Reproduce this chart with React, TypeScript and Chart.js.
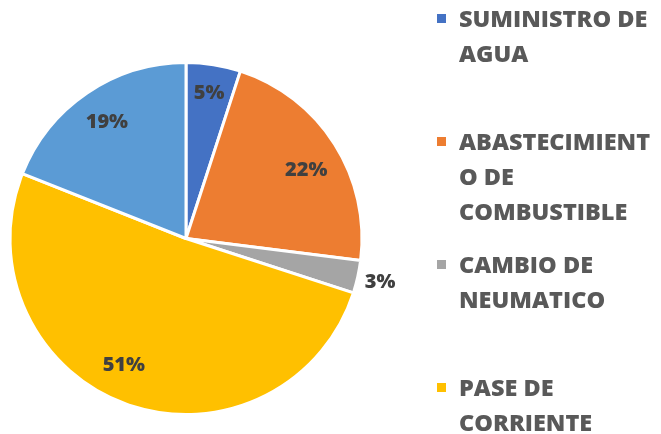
import React, { useEffect, useRef } from "react";
import { Chart, registerables } from "chart.js";

Chart.register(...registerables);

const categories = [
  "SUMINISTRO DE AGUA",
  "ABASTECIMIENTO DE COMBUSTIBLE",
  "CAMBIO DE NEUMATICO",
  "PASE DE CORRIENTE",
  "OTROS",
];
const values = [5, 22, 3, 51, 19];
const colors = ["#4472C4", "#ED7D31", "#A5A5A5", "#FFC000", "#5B9BD5"];
// label placement (style): radial fraction and angular nudge in degrees
const labelRadius = [0.836, 0.784, 1.13, 0.8, 0.8];
const labelNudge = [0, 3, 0, 6.4, 0];

function wrapText(ctx: CanvasRenderingContext2D, text: string, maxW: number): string[] {
  const words = text.split(" ");
  const lines: string[] = [];
  let cur = "";
  const pushLong = (w: string) => {
    let part = "";
    for (const ch of w) {
      if (ctx.measureText(part + ch).width > maxW && part) {
        lines.push(part);
        part = ch;
      } else part += ch;
    }
    return part;
  };
  for (const w of words) {
    const test = cur ? cur + " " + w : w;
    if (ctx.measureText(test).width <= maxW) {
      cur = test;
    } else {
      if (cur) lines.push(cur);
      if (ctx.measureText(w).width > maxW) cur = pushLong(w);
      else cur = w;
    }
  }
  if (cur) lines.push(cur);
  return lines;
}

const labelsPlugin = {
  id: "customLabels",
  afterDatasetsDraw(chart: any) {
    const ctx = chart.ctx as CanvasRenderingContext2D;
    const meta = chart.getDatasetMeta(0);
    const total = values.reduce((a, b) => a + b, 0);
    ctx.save();
    ctx.font = "800 20px 'Open Sans'";
    ctx.fillStyle = "#404040";
    ctx.textAlign = "center";
    ctx.textBaseline = "middle";
    meta.data.forEach((arc: any, i: number) => {
      const { x, y, startAngle, endAngle, outerRadius } = arc.getProps(
        ["x", "y", "startAngle", "endAngle", "outerRadius"],
        true
      );
      const mid = (startAngle + endAngle) / 2 + (labelNudge[i] * Math.PI) / 180;
      const r = outerRadius * labelRadius[i];
      const pct = Math.round((values[i] / total) * 100) + "%";
      ctx.fillText(pct, x + Math.cos(mid) * r, y + Math.sin(mid) * r);
    });
    ctx.restore();
  },
  afterDraw(chart: any) {
    const ctx = chart.ctx as CanvasRenderingContext2D;
    ctx.save();
    ctx.font = "800 23.5px 'Open Sans'";
    ctx.textBaseline = "alphabetic";
    ctx.textAlign = "left";
    const boxX = 437;
    const textX = 459;
    const firstBaseline = 27;
    const itemGap = 123;
    const lineH = 35;
    categories.forEach((cat, i) => {
      const base = firstBaseline + i * itemGap;
      ctx.fillStyle = colors[i];
      ctx.fillRect(boxX, base - 13, 9, 9);
      ctx.fillStyle = "#595959";
      const lines = wrapText(ctx, cat, 200);
      lines.forEach((ln, j) => ctx.fillText(ln, textX, base + j * lineH));
    });
    ctx.restore();
  },
};

export default function App() {
  const ref = useRef<HTMLCanvasElement>(null);
  useEffect(() => {
    document.body.style.margin = "0";
    const chart = new Chart(ref.current!, {
      type: "pie",
      data: {
        labels: categories,
        datasets: [
          {
            data: values,
            backgroundColor: colors,
            borderColor: "#ffffff",
            borderWidth: 3,
          },
        ],
      },
      options: {
        animation: false,
        responsive: false,
        events: [],
        layout: { padding: { left: 8, right: 297, top: 61, bottom: 18 } },
        plugins: {
          legend: { display: false },
          tooltip: { enabled: false },
        },
      },
      plugins: [labelsPlugin],
    });
    return () => chart.destroy();
  }, []);
  return (
    <div style={{ position: "absolute", left: 0, top: 0, width: 661, height: 434, background: "#fff" }}>
      <canvas ref={ref} width={661} height={434} />
    </div>
  );
}
